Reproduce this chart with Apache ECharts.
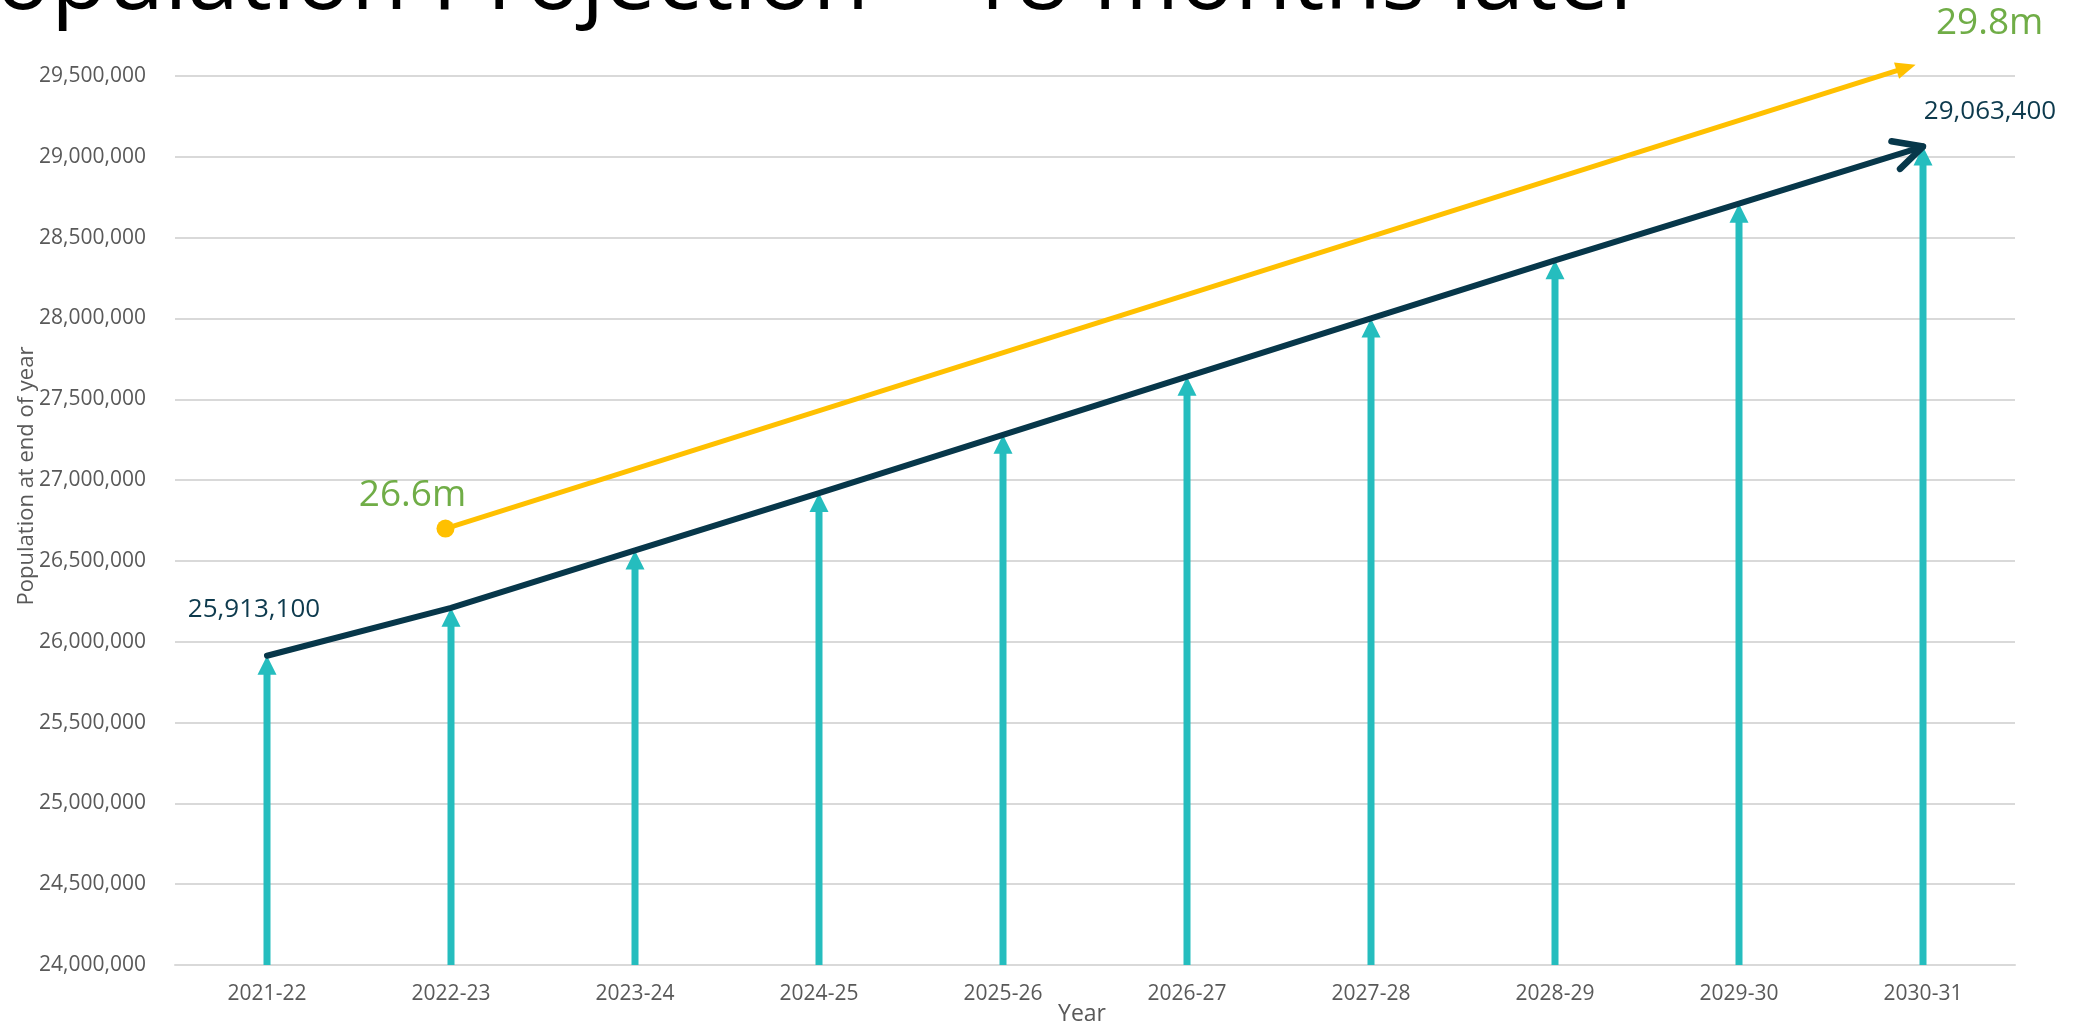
<!DOCTYPE html>
<html>
<head>
<meta charset="utf-8">
<script src="https://cdn.jsdelivr.net/npm/echarts@6/dist/echarts.min.js"></script>
<style>
html,body{margin:0;padding:0;background:#ffffff;}
#chart{width:2083px;height:1027px;}
</style>
</head>
<body>
<div id="chart"></div>
<script>
// ---------- data ----------
const categories = ['2021-22','2022-23','2023-24','2024-25','2025-26','2026-27','2027-28','2028-29','2029-30','2030-31'];
const population = [25913100, 26210000, 26565000, 26920000, 27280000, 27640000, 28000000, 28360000, 28710000, 29063400];
const yMin = 24000000;
const yMax = 29500000;
const yInterval = 500000;
// revised projection arrow: [category position, population]
const revisedStart = [0.97, 26700000];
const revisedEnd = [8.96, 29570000];
const revisedLabels = ['26.6m', '29.8m'];
const titleText = 'Population Projection \u2013 18 months later';
const yAxisTitle = 'Population at end of year';
const xAxisTitle = 'Year';

// ---------- style ----------
const TEAL = '#25BDBE';
const NAVY = '#07374A';
const NAVY_TEXT = '#0D3A4D';
const YELLOW = '#FFC000';
const GREEN = '#70AD47';
const GRAY = '#595959';
const GRID = '#D9D9D9';
const FONT = '"Open Sans", "Noto Sans", sans-serif';

const fmt = v => Math.round(v).toLocaleString('en-US');

// title sizing so visible part spans the reference width
const ctx = document.createElement('canvas').getContext('2d');
ctx.font = '100px "Open Sans"';
const visW = ctx.measureText(titleText.slice(1)).width;
const titleSize = 100 * 1652 / visW;

const chart = echarts.init(document.getElementById('chart'), null, {renderer: 'canvas'});

const option = {
  animation: false,
  backgroundColor: '#ffffff',
  grid: {left: 175, right: 68, top: 76, bottom: 62, containLabel: false},
  xAxis: [
    {
      type: 'category',
      data: categories,
      boundaryGap: true,
      axisLine: {show: true, lineStyle: {color: GRID, width: 2}},
      axisTick: {show: false},
      axisLabel: {color: GRAY, fontSize: 21, fontFamily: FONT, margin: 19},
      splitLine: {show: false}
    },
    {
      type: 'value',
      min: -0.5,
      max: 9.5,
      show: false,
      position: 'bottom'
    }
  ],
  yAxis: {
    type: 'value',
    min: yMin,
    max: yMax,
    interval: yInterval,
    axisLine: {show: false},
    axisTick: {show: false},
    axisLabel: {color: GRAY, fontSize: 21, fontFamily: FONT, margin: 29, formatter: v => fmt(v)},
    splitLine: {show: true, lineStyle: {color: GRID, width: 2}}
  },
  graphic: [
    {
      type: 'text', x: 1647, y: 7 - 0.26 * titleSize, z: 100,
      style: {text: titleText, fontSize: titleSize, fontFamily: FONT, fill: '#000000', align: 'right', verticalAlign: 'middle'}
    },
    {
      type: 'text', x: 27, y: 476, rotation: Math.PI / 2,
      style: {text: yAxisTitle, fontSize: 22, fontFamily: FONT, fill: GRAY, align: 'center', verticalAlign: 'middle'}
    },
    {
      type: 'text', x: 1082, y: 1014,
      style: {text: xAxisTitle, fontSize: 23, fontFamily: FONT, fill: GRAY, align: 'center', verticalAlign: 'middle'}
    }
  ],
  series: [
    {
      name: 'arrows',
      type: 'custom',
      xAxisIndex: 0,
      yAxisIndex: 0,
      z: 2,
      data: population.map((v, i) => [i, v]),
      renderItem: function (params, api) {
        const i = api.value(0), v = api.value(1);
        const base = api.coord([i, yMin]);
        const tip = api.coord([i, v]);
        const th = 19, tw = 9.5;
        return {
          type: 'group',
          children: [
            {type: 'line', shape: {x1: base[0], y1: base[1], x2: tip[0], y2: tip[1] + th - 1}, style: {stroke: TEAL, lineWidth: 7}},
            {type: 'polygon', shape: {points: [[tip[0], tip[1]], [tip[0] - tw, tip[1] + th], [tip[0] + tw, tip[1] + th]]}, style: {fill: TEAL}}
          ]
        };
      }
    },
    {
      name: 'projection',
      type: 'line',
      xAxisIndex: 0,
      yAxisIndex: 0,
      z: 3,
      data: population,
      symbol: 'none',
      lineStyle: {color: NAVY, width: 6, cap: 'round', join: 'round'}
    },
    {
      name: 'projectionHead',
      type: 'custom',
      xAxisIndex: 0,
      yAxisIndex: 0,
      z: 4,
      data: [[population.length - 2, population[population.length - 2], population.length - 1, population[population.length - 1]]],
      renderItem: function (params, api) {
        const a = api.coord([api.value(0), api.value(1)]);
        const b = api.coord([api.value(2), api.value(3)]);
        const ang = Math.atan2(a[1] - b[1], a[0] - b[0]);
        const L = 32, h = 0.47;
        const p1 = [b[0] + L * Math.cos(ang + h), b[1] + L * Math.sin(ang + h)];
        const p2 = [b[0] + L * Math.cos(ang - h), b[1] + L * Math.sin(ang - h)];
        return {
          type: 'polyline',
          shape: {points: [p1, b, p2]},
          style: {stroke: NAVY, lineWidth: 6.5, lineCap: 'round', lineJoin: 'round', fill: null}
        };
      }
    },
    {
      name: 'projectionLabels',
      type: 'custom',
      xAxisIndex: 0,
      yAxisIndex: 0,
      z: 5,
      data: [[0, population[0], -13, -46], [population.length - 1, population[population.length - 1], 67, -35]],
      renderItem: function (params, api) {
        const p = api.coord([api.value(0), api.value(1)]);
        return {
          type: 'text',
          x: p[0] + api.value(2),
          y: p[1] + api.value(3),
          style: {text: fmt(api.value(1)), fontSize: 26, fontFamily: FONT, fill: NAVY_TEXT, align: 'center', verticalAlign: 'middle'}
        };
      }
    },
    {
      name: 'revised',
      type: 'custom',
      xAxisIndex: 1,
      yAxisIndex: 0,
      z: 6,
      clip: false,
      data: [[revisedStart[0], revisedStart[1], revisedEnd[0], revisedEnd[1]]],
      renderItem: function (params, api) {
        const a = api.coord([api.value(0), api.value(1)]);
        const b = api.coord([api.value(2), api.value(3)]);
        const ang = Math.atan2(b[1] - a[1], b[0] - a[0]);
        const ah = 20, aw = 8.5;
        const c = Math.cos(ang), s = Math.sin(ang);
        const bb = [b[0] - ah * c, b[1] - ah * s];
        return {
          type: 'group',
          children: [
            {type: 'line', shape: {x1: a[0], y1: a[1], x2: bb[0] + 2 * c, y2: bb[1] + 2 * s}, style: {stroke: YELLOW, lineWidth: 5}},
            {type: 'circle', shape: {cx: a[0], cy: a[1], r: 9}, style: {fill: YELLOW}},
            {type: 'polygon', shape: {points: [b, [bb[0] - aw * s, bb[1] + aw * c], [bb[0] + aw * s, bb[1] - aw * c]]}, style: {fill: YELLOW}},
            {type: 'text', x: a[0] - 33, y: a[1] - 33, style: {text: revisedLabels[0], fontSize: 37, fontFamily: FONT, fill: GREEN, align: 'center', verticalAlign: 'middle'}},
            {type: 'text', x: b[0] + 74, y: b[1] - 41, style: {text: revisedLabels[1], fontSize: 37, fontFamily: FONT, fill: GREEN, align: 'center', verticalAlign: 'middle'}}
          ]
        };
      }
    }
  ]
};

chart.setOption(option);
</script>
</body>
</html>
